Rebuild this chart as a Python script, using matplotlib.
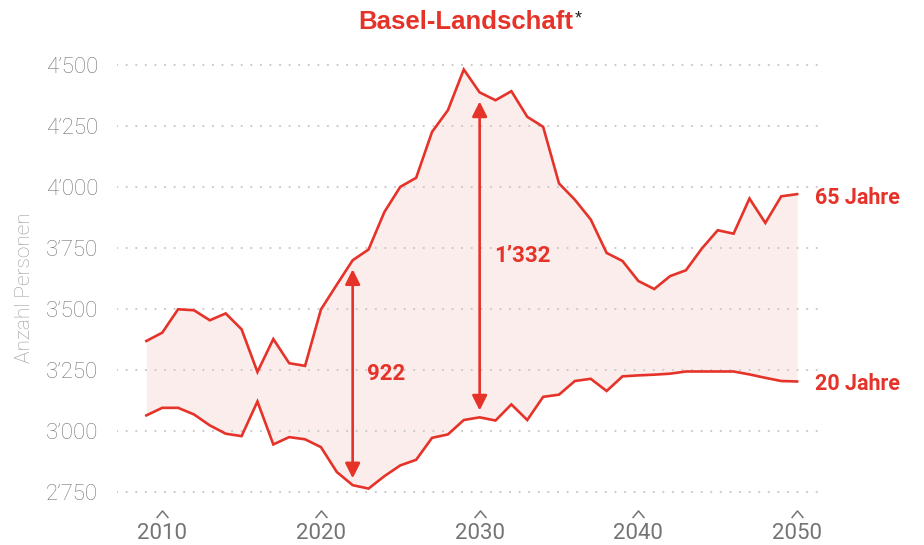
import numpy as np
import matplotlib
matplotlib.use('Agg')
import matplotlib.pyplot as plt
import matplotlib.ticker as mticker
import matplotlib.transforms as mtransforms
from matplotlib.path import Path

# data
years = list(range(2009, 2051))
age65 = [3369, 3403, 3499, 3495, 3454, 3482, 3417, 3242, 3377, 3278,
         3267, 3498, 3600, 3700, 3744, 3898, 4001, 4038, 4226, 4315,
         4482, 4388, 4356, 4393, 4288, 4247, 4015, 3948, 3867, 3730,
         3697, 3615, 3582, 3635, 3659, 3748, 3823, 3809, 3953, 3853,
         3962, 3971]
age20 = [3064, 3095, 3095, 3068, 3023, 2989, 2979, 3121, 2945, 2975,
         2966, 2934, 2832, 2778, 2764, 2815, 2859, 2882, 2972, 2986,
         3045, 3056, 3043, 3109, 3045, 3140, 3149, 3205, 3214, 3164,
         3224, 3228, 3231, 3235, 3244, 3244, 3244, 3244, 3232, 3218,
         3205, 3203]
yticks = [2750, 3000, 3250, 3500, 3750, 4000, 4250, 4500]
xticks = [2010, 2020, 2030, 2040, 2050]
gap_years = [2022, 2030]

RED = '#E6332A'
PINK = '#FBEDEC'
GREY = '#747474'
LIGHT = ['Roboto', 'Liberation Sans', 'DejaVu Sans']
NARROW = ['Liberation Sans Narrow', 'Roboto', 'DejaVu Sans']
BOLD = ['Roboto', 'Liberation Sans', 'DejaVu Sans']

# open chevron used above the year labels
CARET = Path([(-1.0, -0.6), (0.0, 0.6), (1.0, -0.6)],
             [Path.MOVETO, Path.LINETO, Path.LINETO])


def fmt(v, pos=None):
    s = '{:,}'.format(int(v))
    return s.replace(',', '\u2019')


def main():
    fig = plt.figure(figsize=(9.24, 5.45), dpi=100)
    ax = fig.add_axes([0.1266, 0.0883, 0.7630, 0.8057])

    x = np.array(years)
    up = np.array(age65)
    lo = np.array(age20)

    ax.fill_between(x, lo, up, color=PINK, lw=0, zorder=1)
    ax.plot(x, up, color=RED, lw=1.9, zorder=3, solid_joinstyle='miter')
    ax.plot(x, lo, color=RED, lw=1.9, zorder=3, solid_joinstyle='miter')

    ax.set_xlim(2007.15, 2051.57)
    ax.set_ylim(2730, 4530)

    # grid
    ax.set_yticks(yticks)
    ax.yaxis.set_major_formatter(mticker.FuncFormatter(fmt))
    ax.grid(axis='y', color='#c9c9c9', lw=1.5, linestyle=(0, (0.1, 4.5)),
            dash_capstyle='round', zorder=2)
    for sp in ax.spines.values():
        sp.set_visible(False)
    ax.tick_params(axis='both', length=0)
    ax.tick_params(axis='y', pad=13.5, labelcolor=GREY)
    for t in ax.get_yticklabels():
        t.set_family(LIGHT)
        t.set_fontweight('light')
        t.set_fontsize(16)

    ax.set_xticks(xticks)
    ax.set_xticklabels([str(y) for y in xticks], family=NARROW,
                       fontsize=16, color=GREY)
    ax.tick_params(axis='x', pad=18.5)
    # little carets above the year labels
    trans = mtransforms.blended_transform_factory(ax.transData, ax.transAxes)
    ax.plot(xticks, [-0.039] * len(xticks), transform=trans, linestyle='none',
            marker=CARET, markersize=8.5, markerfacecolor='none',
            markeredgecolor=GREY, markeredgewidth=1.1, clip_on=False)

    # gap arrows
    for yr in gap_years:
        i = years.index(yr)
        top = age65[i] - 37
        bot = age20[i] + 28
        ax.annotate('', xy=(yr, top), xytext=(yr, bot),
                    arrowprops=dict(arrowstyle='<|-|>,head_length=0.9,head_width=0.45',
                                    color=RED, lw=1.9, shrinkA=0, shrinkB=0),
                    zorder=4)
        diff = age65[i] - age20[i]
        ax.annotate(fmt(diff), xy=(yr, (top + bot) / 2), xytext=(14, 0),
                    textcoords='offset pixels', ha='left', va='center',
                    color=RED, fontsize=16, fontweight='bold', family=BOLD)

    # end labels
    ax.annotate('65 Jahre', xy=(years[-1], age65[-1]), xytext=(18, -4),
                textcoords='offset pixels', ha='left', va='center',
                color=RED, fontsize=15.5, fontweight='bold', family=BOLD,
                annotation_clip=False)
    ax.annotate('20 Jahre', xy=(years[-1], age20[-1]), xytext=(18, -3),
                textcoords='offset pixels', ha='left', va='center',
                color=RED, fontsize=15.5, fontweight='bold', family=BOLD,
                annotation_clip=False)

    # title
    title = fig.text(466 / 924, 1 - 22 / 545, 'Basel-Landschaft', ha='center',
                     va='center', color=RED, fontsize=18.5, fontweight='bold',
                     family=['Liberation Sans', 'DejaVu Sans'])
    fig.canvas.draw()
    ax.annotate('*', xy=(1, 1), xycoords=title, xytext=(1, 0),
                textcoords='offset pixels', ha='left', va='top',
                color='#222222', fontsize=13, family=['Liberation Sans', 'DejaVu Sans'])

    fig.text(25 / 924, 1 - 288 / 545, 'Anzahl Personen', rotation=90,
             ha='center', va='center', color='#999999', fontsize=15,
             fontweight='light', family=LIGHT)

    fig.savefig('out.png', dpi=100)


if __name__ == '__main__':
    main()
